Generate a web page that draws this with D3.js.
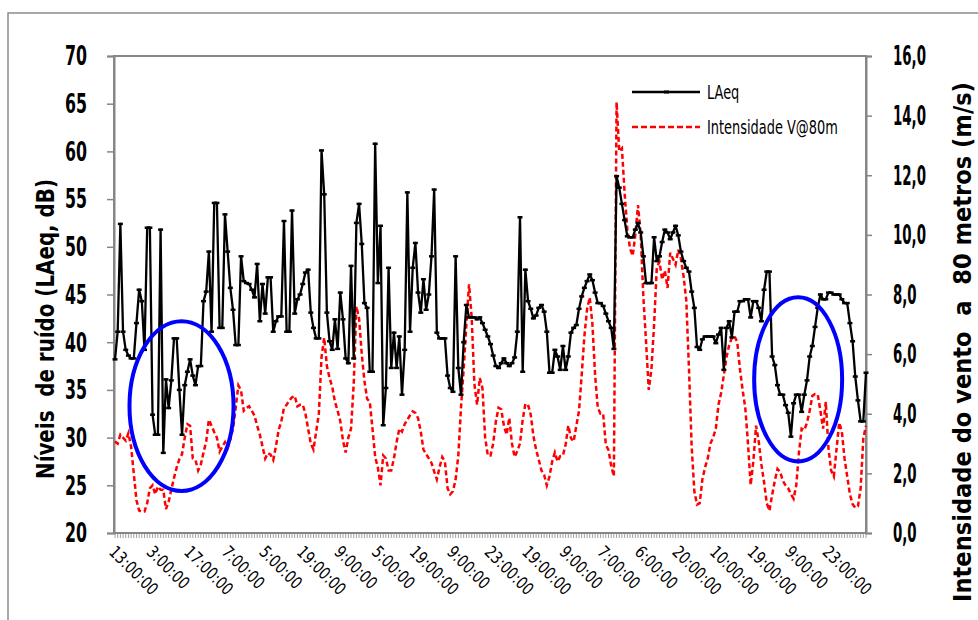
<!DOCTYPE html>
<html><head><meta charset="utf-8">
<script src="https://cdn.jsdelivr.net/npm/d3@7"></script>
<style>
html,body{margin:0;padding:0;background:#fff;}
svg{display:block;font-family:"DejaVu Sans Condensed","DejaVu Sans",sans-serif;}
</style></head>
<body><svg id="c" width="978" height="620"></svg>
<script>
// ---- data ----
const laeq = [
38.2,41.1,52.4,41.1,39.2,38.6,38.3,38.3,42.0,45.5,44.3,39.2,52.0,52.0,32.4,30.3,30.3,51.8,28.4,36.1,
33.1,36.0,40.4,40.4,35.0,30.3,35.5,36.9,38.2,36.5,35.5,37.5,37.5,44.3,45.3,49.5,41.1,54.6,54.6,41.5,
41.5,53.4,49.5,45.7,43.4,39.7,39.7,49.0,46.4,46.2,46.1,45.5,44.7,48.2,42.2,46.1,43.0,46.8,46.8,41.1,
42.2,42.7,42.7,52.7,41.1,41.1,53.8,43.0,44.5,45.0,46.1,47.3,47.6,43.1,41.5,40.4,40.4,60.1,55.5,43.1,
40.1,39.2,42.4,39.3,45.2,42.4,38.3,37.8,48.0,38.3,52.5,54.5,50.3,44.1,43.6,36.9,36.9,60.8,46.2,52.2,
31.3,35.2,47.8,37.3,41.0,37.3,40.6,34.5,39.2,55.7,41.1,47.8,50.4,45.2,43.1,46.6,43.4,45.0,49.0,56.0,
41.0,40.4,40.4,40.4,36.5,35.2,34.8,49.0,37.3,34.5,40.0,43.9,42.6,42.6,42.6,42.4,42.6,42.0,41.3,40.6,
39.8,38.6,37.5,37.3,37.8,38.3,37.8,37.5,37.8,38.4,41.1,53.1,36.9,47.6,44.3,43.5,42.5,42.8,43.6,43.9,
43.2,41.1,36.8,36.8,39.2,38.5,37.1,39.6,37.1,38.5,41.0,41.5,41.8,43.5,44.8,45.7,46.4,47.1,46.5,45.2,
44.1,44.1,43.8,43.0,42.2,41.5,39.3,57.4,56.2,54.5,52.8,51.1,51.0,51.0,51.8,52.5,51.5,49.0,46.2,46.2,
46.2,51.0,48.5,49.0,50.5,51.8,51.5,50.8,51.5,52.2,51.2,49.5,48.5,47.8,47.4,45.3,43.6,39.5,39.2,40.3,
40.6,40.6,40.6,40.6,39.9,40.8,41.5,37.1,41.5,42.2,40.5,43.2,43.2,44.3,44.3,44.5,44.5,42.6,44.3,44.3,
43.6,42.2,45.5,47.4,47.4,38.5,37.6,35.5,34.5,34.5,33.4,32.6,30.1,33.6,34.5,34.5,32.7,34.5,36.0,38.5,
39.6,41.6,43.6,45.0,44.5,44.5,45.2,45.2,45.0,45.0,45.0,44.5,44.1,44.1,42.0,40.1,36.4,33.9,31.7,31.7,
36.8];
const wind = [
3.07,3.0,3.3,3.2,3.1,3.35,2.9,2.0,1.1,0.75,0.72,0.72,1.0,1.5,1.6,1.3,1.56,1.45,1.45,0.8,
1.05,1.45,1.85,2.2,2.48,2.65,3.2,3.65,3.6,2.5,2.45,2.1,2.3,2.7,3.07,3.8,3.6,3.38,3.2,2.73,
2.9,3.05,2.85,3.15,3.5,4.2,4.95,4.78,4.1,4.2,4.25,4.1,3.94,3.6,3.3,2.9,2.5,2.68,2.63,2.45,
2.9,3.45,3.74,4.2,4.3,4.45,4.55,4.6,4.25,4.3,4.3,4.0,3.5,3.0,2.8,3.4,4.0,5.9,6.55,5.6,
5.2,4.9,4.4,4.1,3.75,3.1,2.7,3.2,3.5,5.0,7.6,7.2,6.0,5.1,4.5,4.4,3.5,2.55,2.2,1.6,
2.6,2.5,2.1,2.1,2.5,3.05,3.5,3.4,3.65,3.8,3.95,4.08,4.03,3.85,3.4,2.8,2.65,2.5,2.35,2.06,
1.8,2.2,2.55,2.4,1.5,1.3,1.4,1.8,2.6,4.2,5.5,7.0,8.34,7.2,5.0,4.3,5.2,4.86,3.2,2.6,
2.6,3.0,3.74,4.2,4.15,3.6,3.3,3.86,3.0,2.55,2.75,3.0,3.8,4.33,4.3,3.97,3.25,2.8,2.45,2.1,
1.95,1.6,1.9,2.4,2.7,2.4,2.58,2.6,2.96,3.6,3.18,3.07,3.6,4.1,5.3,6.6,7.5,7.9,7.0,5.3,
4.2,4.0,4.0,2.96,2.78,2.25,1.9,14.45,12.8,12.9,11.4,10.2,9.55,9.3,10.0,11.0,10.0,7.9,6.4,4.8,
5.5,7.0,8.9,9.1,8.5,8.8,8.22,9.4,9.2,9.0,9.5,9.2,8.6,7.8,5.5,2.9,1.4,0.95,1.0,1.8,
2.2,2.5,3.0,3.2,3.5,4.3,4.7,5.3,5.9,6.3,6.55,6.6,6.4,5.5,4.8,4.19,3.0,1.61,2.4,3.6,
3.07,2.3,1.7,1.0,0.75,1.28,1.75,2.15,2.05,1.75,1.6,1.5,1.3,1.15,1.6,2.7,3.5,3.45,3.7,4.1,
4.6,4.66,4.65,4.1,3.5,4.4,2.85,2.1,1.9,2.8,3.7,3.4,2.5,1.9,1.3,0.97,0.85,0.9,1.5,3.18,
3.6];
const categories = laeq.map((d, i) => i);           // hourly records
const tickLabels = ["13:00:00","3:00:00","17:00:00","7:00:00","5:00:00","19:00:00","9:00:00","5:00:00",
  "19:00:00","9:00:00","23:00:00","19:00:00","9:00:00","7:00:00","6:00:00","20:00:00","10:00:00",
  "19:00:00","9:00:00","23:00:00"];
const labelStep = 14;
const leftTicks = [20,25,30,35,40,45,50,55,60,65,70];
const rightTicks = [0,2,4,6,8,10,12,14,16];
const seriesNames = ["LAeq","Intensidade V@80m"];
const leftTitle = "Níveis  de ruído (LAeq, dB)";
const rightTitle = "Intensidade do vento  a  80 metros (m/s)";
// highlighted zones: [centre category, centre dB, half-width in categories, half-height in dB]
const highlights = [[24.8,33.3,19.4,8.9],[254.7,36.1,16.4,8.6]];

// ---- chart ----
const svg = d3.select("#c");
const L = 114, R = 866, T = 56, B = 533;
const x = d3.scaleLinear().domain([0, categories.length - 1]).range([115, R]);
const yL = d3.scaleLinear().domain([20, 70]).range([B, T]);
const yR = d3.scaleLinear().domain([0, 16]).range([B, T]);
const grey = "#868686";
const maxW = sel => d3.max(sel.nodes(), n => n.getComputedTextLength());

// outer frame
svg.append("rect").attr("x",8).attr("y",13).attr("width",990).attr("height",640)
  .attr("fill","none").attr("stroke","#8c8c8c").attr("stroke-width",1.5);

// x minor ticks (every category)
svg.append("g").selectAll("line").data(categories).join("line")
  .attr("x1", d => x(d)).attr("x2", d => x(d)).attr("y1", B).attr("y2", B + 5)
  .attr("stroke", "#a0a0a0").attr("stroke-width", 1);

// plot frame
svg.append("rect").attr("x",L).attr("y",T).attr("width",R-L).attr("height",B-T)
  .attr("fill","none").attr("stroke",grey).attr("stroke-width",2);

// left axis
const gL = svg.append("g").attr("transform",`translate(${L},0)`)
  .call(d3.axisLeft(yL).tickValues(leftTicks).tickSize(7).tickFormat(""));
gL.select(".domain").attr("stroke",grey).attr("stroke-width",2);
gL.selectAll(".tick line").attr("stroke",grey).attr("stroke-width",1.5);
gL.selectAll(".tick text").remove();
const lt = svg.append("g").selectAll("text").data(leftTicks).join("text")
  .attr("font-size",26).attr("font-weight","bold").attr("text-anchor","end")
  .attr("dy","0.36em").text(d => d3.format("d")(d));
const sL = 22 / maxW(lt);
lt.attr("transform", d => `translate(87,${yL(d)}) scale(${sL},1)`);

// right axis
const gR = svg.append("g").attr("transform",`translate(${R},0)`)
  .call(d3.axisRight(yR).tickValues(rightTicks).tickSize(6).tickFormat(""));
gR.select(".domain").attr("stroke",grey).attr("stroke-width",2);
gR.selectAll(".tick line").attr("stroke",grey).attr("stroke-width",1.5);
gR.selectAll(".tick text").remove();
const rt = svg.append("g").selectAll("text").data(rightTicks).join("text")
  .attr("font-size",26).attr("font-weight","bold").attr("text-anchor","start")
  .attr("dy","0.36em").text(d => d3.format(".1f")(d).replace(".", ","));
const sR = 33 / maxW(rt);
rt.attr("transform", d => `translate(893,${yR(d)}) scale(${sR},1)`);

// x labels
const xt = svg.append("g").selectAll("text").data(tickLabels).join("text")
  .attr("font-size", 17).attr("fill", "#000").text(d => d);
const sX = 61 / maxW(xt);
xt.attr("transform", (d, k) => `translate(${x(k * labelStep) - 7},553) rotate(45) scale(${sX},1)`);

// axis titles
const t1 = svg.append("text").attr("text-anchor","middle").attr("font-size",25).attr("font-weight","bold")
  .style("white-space","pre").text(leftTitle);
t1.attr("transform",`translate(54,329) rotate(-90) scale(${300 / t1.node().getComputedTextLength()},1)`);
const t2 = svg.append("text").attr("text-anchor","middle").attr("font-size",24).attr("font-weight","bold")
  .style("white-space","pre").text(rightTitle);
t2.attr("transform",`translate(971,342) rotate(-90) scale(${520 / t2.node().getComputedTextLength()},1)`);

// wind line (right axis)
svg.append("path").datum(wind)
  .attr("d", d3.line().x((d, i) => x(i)).y(d => yR(d)))
  .attr("fill","none").attr("stroke","#ff0000").attr("stroke-width",2.5)
  .attr("stroke-dasharray","5,3");

// LAeq line (left axis)
svg.append("path").datum(laeq)
  .attr("d", d3.line().x((d, i) => x(i)).y(d => yL(d)))
  .attr("fill","none").attr("stroke","#000").attr("stroke-width",2.3).attr("stroke-linejoin","round");
svg.append("g").selectAll("line").data(laeq).join("line")
  .attr("x1",(d,i)=>x(i)-2.5).attr("x2",(d,i)=>x(i)+2.5)
  .attr("y1",d=>yL(d)).attr("y2",d=>yL(d))
  .attr("stroke","#000").attr("stroke-width",2.5);

// highlight ellipses
svg.append("g").selectAll("ellipse").data(highlights).join("ellipse")
  .attr("cx", d => x(d[0])).attr("cy", d => yL(d[1]))
  .attr("rx", d => x(d[2]) - x(0)).attr("ry", d => yL(20) - yL(20 + d[3]))
  .attr("fill","none").attr("stroke","#0000ff").attr("stroke-width",4);

// legend
const lg = svg.append("g");
lg.append("line").attr("x1",632).attr("x2",700).attr("y1",92).attr("y2",92)
  .attr("stroke","#000").attr("stroke-width",2.3);
lg.append("rect").attr("x",664).attr("y",90.5).attr("width",5).attr("height",3).attr("fill","#000");
lg.append("line").attr("x1",632).attr("x2",700).attr("y1",127).attr("y2",127)
  .attr("stroke","#ff0000").attr("stroke-width",2.5).attr("stroke-dasharray","6,3");
const lgt = lg.selectAll("text").data(seriesNames).join("text")
  .attr("dy","0.36em").attr("font-size",20).attr("fill","#000").text(d=>d);
const sG = 131 / maxW(lgt);
lgt.attr("transform",(d,i)=>`translate(707,${92+i*35}) scale(${sG},1)`);
</script></body></html>
